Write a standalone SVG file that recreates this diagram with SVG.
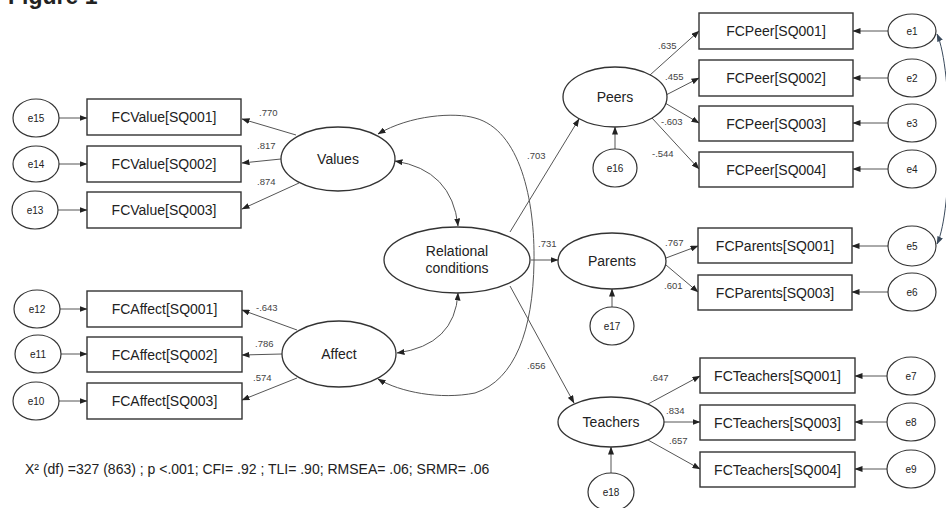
<svg xmlns="http://www.w3.org/2000/svg" width="946" height="508" viewBox="0 0 946 508">
<defs>
<marker id="ah" markerUnits="userSpaceOnUse" markerWidth="8" markerHeight="6" refX="7.5" refY="3" orient="auto-start-reverse">
<path d="M0,0 L8,3 L0,6 z" fill="#222"/>
</marker>
<marker id="ahb" markerUnits="userSpaceOnUse" markerWidth="8" markerHeight="6" refX="7.5" refY="3" orient="auto-start-reverse">
<path d="M0,0 L8,3 L0,6 z" fill="#3a4a5c"/>
</marker>
<style>
text{font-family:"Liberation Sans",Arial,Helvetica,sans-serif;fill:#222}
.box{fill:#fff;stroke:#333;stroke-width:1.4}
.lat{fill:#fff;stroke:#333;stroke-width:1.3}
.err{fill:#fff;stroke:#333;stroke-width:1.2}
.bt{font-size:14px;text-anchor:middle}
.lt{font-size:14px;text-anchor:middle}
.et{font-size:10px;text-anchor:middle}
.ld{font-size:9.5px;fill:#444}
.c{fill:none;stroke:#555;stroke-width:1}
.a{marker-end:url(#ah)}
.d{marker-start:url(#ah);marker-end:url(#ah)}
</style>
</defs>
<rect width="946" height="508" fill="#fff"/>
<text x="8" y="4" style="font-size:23px;font-weight:bold">Figure 1</text>

<g id="connectors">
<path class="c a" d="M59 118 L87 118"/>
<path class="c a" d="M59 164 L87 164"/>
<path class="c a" d="M58 210 L87 210"/>
<path class="c a" d="M60 309 L87 309"/>
<path class="c a" d="M61 354 L87 354"/>
<path class="c a" d="M59 401 L87 401"/>
<path class="c a" d="M296 135 L242 119"/>
<path class="c a" d="M281 159 L242 163"/>
<path class="c a" d="M299 183 L242 209"/>
<path class="c a" d="M297 330 L242 310"/>
<path class="c a" d="M282 354 L242 355"/>
<path class="c a" d="M297 378 L242 400"/>
<path class="c d" d="M395 161 Q452 170 458 226"/>
<path class="c d" d="M397 353 Q455 345 458 293"/>
<path class="c d" d="M378 134 C410 115 455 112 475 118 C520 130 535 200 534 262 C533 330 515 380 475 393 C440 400 400 392 378 379"/>
<path class="c a" d="M510 232 L579 119"/>
<path class="c a" d="M531 260 L558 260"/>
<path class="c a" d="M510 286 L574 403"/>
<path class="c a" d="M650 75 L699 31"/>
<path class="c a" d="M666 95 L699 78"/>
<path class="c a" d="M665 103 L699 123"/>
<path class="c a" d="M652 118 L699 169"/>
<path class="c a" d="M615 149 L615 127"/>
<path class="c a" d="M888 31 L853 31"/>
<path class="c a" d="M888 78 L853 78"/>
<path class="c a" d="M888 123 L853 123"/>
<path class="c a" d="M888 169 L853 169"/>
<path class="c a" d="M666 258 L698 246"/>
<path class="c a" d="M666 265 L698 292"/>
<path class="c a" d="M612 307 L612 289"/>
<path class="c a" d="M888 246 L852 246"/>
<path class="c a" d="M888 292 L852 292"/>
<path class="c a" d="M648 404 L700 376"/>
<path class="c a" d="M664 422 L700 422"/>
<path class="c a" d="M648 440 L700 469"/>
<path class="c a" d="M611 473 L611 447"/>
<path class="c a" d="M887 376 L855 376"/>
<path class="c a" d="M887 422 L855 422"/>
<path class="c a" d="M887 469 L855 469"/>
<path fill="none" stroke="#3a4a5c" stroke-width="1" marker-start="url(#ahb)" marker-end="url(#ahb)" d="M937 34 C953 70 953 210 937 244"/>
<text class="ld" x="259" y="116">.770</text>
<text class="ld" x="257" y="149">.817</text>
<text class="ld" x="257" y="185">.874</text>
<text class="ld" x="256" y="311">-.643</text>
<text class="ld" x="255" y="347">.786</text>
<text class="ld" x="253" y="381">.574</text>
<text class="ld" x="527" y="159">.703</text>
<text class="ld" x="538" y="247">.731</text>
<text class="ld" x="527" y="369">.656</text>
<text class="ld" x="658" y="49">.635</text>
<text class="ld" x="665" y="80">.455</text>
<text class="ld" x="661" y="125">-.603</text>
<text class="ld" x="652" y="157">-.544</text>
<text class="ld" x="665" y="246">.767</text>
<text class="ld" x="664" y="289">.601</text>
<text class="ld" x="650" y="381">.647</text>
<text class="ld" x="666" y="414">.834</text>
<text class="ld" x="669" y="444">.657</text>
</g>

<g id="e15"><ellipse class="err" cx="36" cy="118" rx="23" ry="19"/><text class="et" x="36" y="121.5">e15</text></g>
<g id="e14"><ellipse class="err" cx="36" cy="164" rx="23" ry="18"/><text class="et" x="36" y="167.5">e14</text></g>
<g id="e13"><ellipse class="err" cx="35" cy="210" rx="23" ry="19"/><text class="et" x="35" y="213.5">e13</text></g>
<g id="e12"><ellipse class="err" cx="37" cy="309" rx="23" ry="19"/><text class="et" x="37" y="312.5">e12</text></g>
<g id="e11"><ellipse class="err" cx="38" cy="354" rx="23" ry="19"/><text class="et" x="38" y="357.5">e11</text></g>
<g id="e10"><ellipse class="err" cx="36" cy="401" rx="23" ry="19"/><text class="et" x="36" y="404.5">e10</text></g>

<g id="FCValue1"><rect class="box" x="87" y="99" width="154" height="36"/><text class="bt" x="164" y="122">FCValue[SQ001]</text></g>
<g id="FCValue2"><rect class="box" x="87" y="146" width="154" height="36"/><text class="bt" x="164" y="169">FCValue[SQ002]</text></g>
<g id="FCValue3"><rect class="box" x="87" y="192" width="154" height="36"/><text class="bt" x="164" y="215">FCValue[SQ003]</text></g>
<g id="FCAffect1"><rect class="box" x="87" y="291" width="155" height="36"/><text class="bt" x="164.5" y="314">FCAffect[SQ001]</text></g>
<g id="FCAffect2"><rect class="box" x="87" y="337" width="155" height="35"/><text class="bt" x="164.5" y="359.5">FCAffect[SQ002]</text></g>
<g id="FCAffect3"><rect class="box" x="87" y="383" width="155" height="36"/><text class="bt" x="164.5" y="406">FCAffect[SQ003]</text></g>

<g id="Values"><ellipse class="lat" cx="338" cy="159" rx="57" ry="32"/><text class="lt" x="338" y="164">Values</text></g>
<g id="Affect"><ellipse class="lat" cx="339" cy="354" rx="57" ry="33"/><text class="lt" x="339" y="359">Affect</text></g>
<g id="Relational"><ellipse class="lat" cx="457" cy="260" rx="73" ry="33"/><text class="lt" x="457" y="256">Relational</text><text class="lt" x="457" y="273">conditions</text></g>

<g id="Peers"><ellipse class="lat" cx="615" cy="97" rx="52" ry="30"/><text class="lt" x="615" y="102">Peers</text></g>
<g id="e16"><ellipse class="err" cx="615" cy="168" rx="22" ry="19"/><text class="et" x="615" y="171.5">e16</text></g>
<g id="FCPeer1"><rect class="box" x="699" y="13" width="154" height="36"/><text class="bt" x="776" y="36">FCPeer[SQ001]</text></g>
<g id="FCPeer2"><rect class="box" x="699" y="60" width="154" height="36"/><text class="bt" x="776" y="83">FCPeer[SQ002]</text></g>
<g id="FCPeer3"><rect class="box" x="699" y="106" width="154" height="35"/><text class="bt" x="776" y="128.5">FCPeer[SQ003]</text></g>
<g id="FCPeer4"><rect class="box" x="699" y="152" width="154" height="35"/><text class="bt" x="776" y="174.5">FCPeer[SQ004]</text></g>
<g id="e1"><ellipse class="err" cx="912" cy="31" rx="24" ry="17"/><text class="et" x="912" y="34.5">e1</text></g>
<g id="e2"><ellipse class="err" cx="912" cy="78" rx="24" ry="19"/><text class="et" x="912" y="81.5">e2</text></g>
<g id="e3"><ellipse class="err" cx="912" cy="123" rx="24" ry="19"/><text class="et" x="912" y="126.5">e3</text></g>
<g id="e4"><ellipse class="err" cx="912" cy="169" rx="24" ry="19"/><text class="et" x="912" y="172.5">e4</text></g>

<g id="Parents"><ellipse class="lat" cx="612" cy="261" rx="54" ry="28"/><text class="lt" x="612" y="266">Parents</text></g>
<g id="e17"><ellipse class="err" cx="612" cy="326" rx="22" ry="19"/><text class="et" x="612" y="329.5">e17</text></g>
<g id="FCParents1"><rect class="box" x="698" y="228" width="154" height="35"/><text class="bt" x="775" y="250.5">FCParents[SQ001]</text></g>
<g id="FCParents3"><rect class="box" x="698" y="275" width="154" height="35"/><text class="bt" x="775" y="297.5">FCParents[SQ003]</text></g>
<g id="e5"><ellipse class="err" cx="912" cy="246" rx="24" ry="20"/><text class="et" x="912" y="249.5">e5</text></g>
<g id="e6"><ellipse class="err" cx="912" cy="292" rx="24" ry="19"/><text class="et" x="912" y="295.5">e6</text></g>

<g id="Teachers"><ellipse class="lat" cx="611" cy="422" rx="53" ry="25"/><text class="lt" x="611" y="427">Teachers</text></g>
<g id="e18"><ellipse class="err" cx="611" cy="492" rx="23" ry="19"/><text class="et" x="611" y="495.5">e18</text></g>
<g id="FCTeachers1"><rect class="box" x="700" y="358" width="155" height="35"/><text class="bt" x="777.5" y="380.5">FCTeachers[SQ001]</text></g>
<g id="FCTeachers3"><rect class="box" x="700" y="405" width="155" height="35"/><text class="bt" x="777.5" y="427.5">FCTeachers[SQ003]</text></g>
<g id="FCTeachers4"><rect class="box" x="700" y="452" width="155" height="35"/><text class="bt" x="777.5" y="474.5">FCTeachers[SQ004]</text></g>
<g id="e7"><ellipse class="err" cx="911" cy="376" rx="24" ry="19"/><text class="et" x="911" y="379.5">e7</text></g>
<g id="e8"><ellipse class="err" cx="911" cy="422" rx="24" ry="19"/><text class="et" x="911" y="425.5">e8</text></g>
<g id="e9"><ellipse class="err" cx="911" cy="469" rx="24" ry="19"/><text class="et" x="911" y="472.5">e9</text></g>

<text x="25" y="474" style="font-size:14px">X² (df) =327 (863) ; p &lt;.001; CFI= .92 ; TLI= .90; RMSEA= .06; SRMR= .06</text>
</svg>
